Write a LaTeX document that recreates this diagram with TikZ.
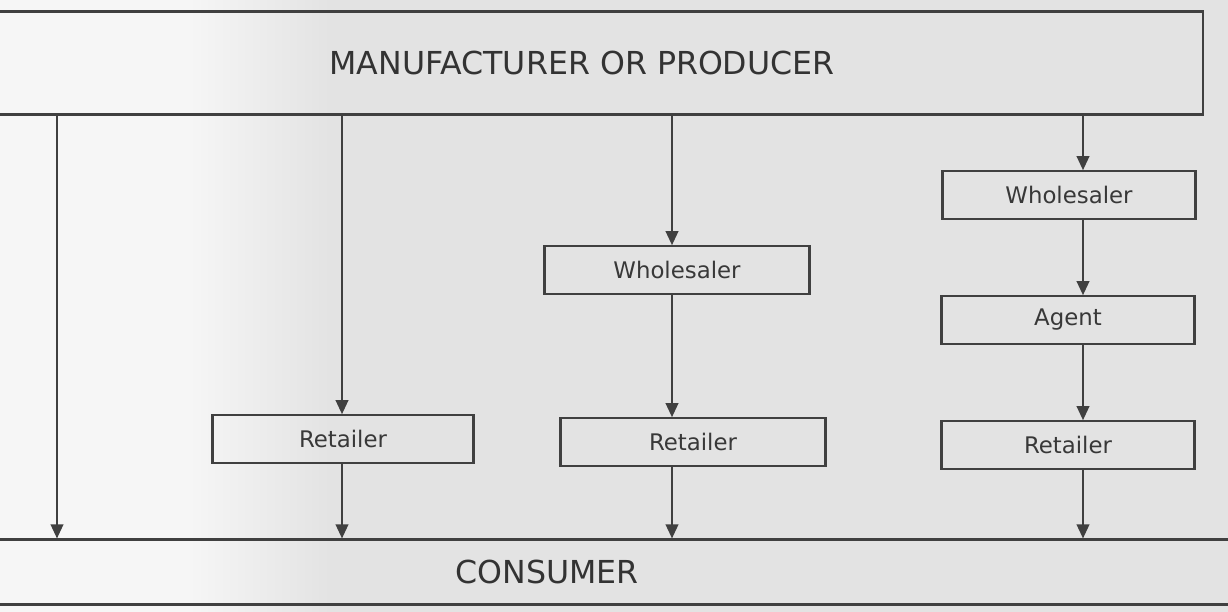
\documentclass[tikz,border=0pt]{standalone}
\usepackage{fontspec}
\setmainfont{DejaVu Sans}
\usetikzlibrary{arrows.meta,positioning}
\definecolor{inkgray}{HTML}{404040}
\definecolor{scangray}{HTML}{E3E3E3}
\definecolor{paperwhite}{HTML}{F6F6F6}

\begin{document}
\begin{tikzpicture}[x=0.02cm, y=-0.02cm,
  box/.style={draw=inkgray, line width=1.2pt, rectangle, minimum height=0.95cm,
    font=\fontsize{13}{15}\selectfont, text=black!78},
  band/.style={draw=inkgray, line width=1.2pt, rectangle,
    font=\fontsize{18}{21}\selectfont, text=black!80},
  arr/.style={draw=inkgray, line width=1.2pt, -{Triangle[length=0.28cm, width=0.25cm]}}]
  % Paper
  \useasboundingbox (0,0) rectangle (1228,612);
  \fill[scangray] (0,0) rectangle (1228,612);
  \fill[paperwhite] (0,0) rectangle (190,612);
  \shade[left color=paperwhite, right color=scangray] (189,0) rectangle (330,612);

  % Bands
  \node[band, minimum width=24.84cm, minimum height=2.06cm] (maker) at (582,63) {MANUFACTURER OR PRODUCER};
  \node[band, minimum width=28.12cm, minimum height=1.3cm] (consumer) at (547,572) {CONSUMER};

  % Channels
  \node[box, minimum width=5.22cm] (retA) at (343,439) {Retailer};
  \node[box, minimum width=5.3cm] (wholeB) at (677,270) {Wholesaler};
  \node[box, minimum width=5.3cm] (retB) at (693,442) {Retailer};
  \node[box, minimum width=5.06cm] (wholeC) at (1069,195) {Wholesaler};
  \node[box, minimum width=5.06cm] (agentC) at (1068,320) {Agent};
  \node[box, minimum width=5.06cm] (retC) at (1068,445) {Retailer};

  % Columns
  \coordinate (colA) at (57,0);
  \coordinate (colB) at (342,0);
  \coordinate (colC) at (672,0);
  \coordinate (colD) at (1083,0);

  % Arrows
  \draw[arr] (maker.south -| colA) -- (consumer.north -| colA);
  \draw[arr] (maker.south -| colB) -- (retA.north -| colB);
  \draw[arr] (retA.south -| colB) -- (consumer.north -| colB);
  \draw[arr] (maker.south -| colC) -- (wholeB.north -| colC);
  \draw[arr] (wholeB.south -| colC) -- (retB.north -| colC);
  \draw[arr] (retB.south -| colC) -- (consumer.north -| colC);
  \draw[arr] (maker.south -| colD) -- (wholeC.north -| colD);
  \draw[arr] (wholeC.south -| colD) -- (agentC.north -| colD);
  \draw[arr] (agentC.south -| colD) -- (retC.north -| colD);
  \draw[arr] (retC.south -| colD) -- (consumer.north -| colD);
\end{tikzpicture}
\end{document}
